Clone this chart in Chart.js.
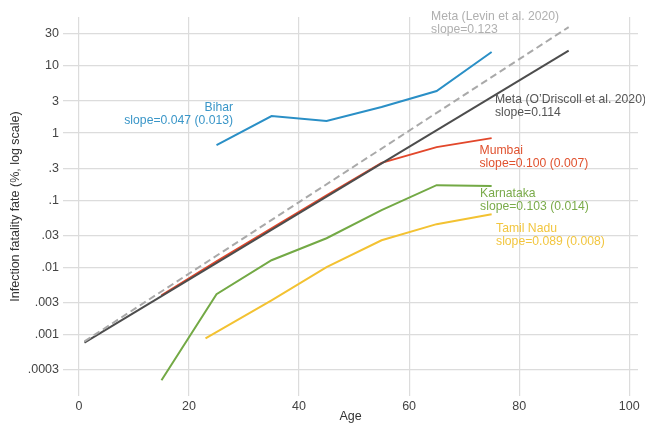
<!DOCTYPE html>
<html>
<head>
<meta charset="utf-8">
<script src="https://cdn.jsdelivr.net/npm/chart.js@4.4.1/dist/chart.umd.min.js"></script>
<style>
  html, body { margin: 0; padding: 0; background: #fff; }
  #wrap { width: 645px; height: 424px; }
</style>
</head>
<body>
<div id="wrap"><canvas id="ifr"></canvas></div>
<script>
// Age bands (x) and infection fatality rate in % (y) for each series
const ageMeta = [1, 89];
const levinIfr = [0.00078, 38];
const odriscollIfr = [0.00075, 17];

const ageBands = [25, 35, 45, 55, 65, 75];
const biharIfr = [0.66, 1.79, 1.51, 2.44, 4.23, 16.2];

const ageMumbai = [15, 25, 35, 45, 55, 65, 75];
const mumbaiIfr = [0.0038, 0.0122, 0.038, 0.118, 0.36, 0.617, 0.84];

const ageKarnataka = [15, 25, 35, 45, 55, 65, 75];
const karnatakaIfr = [0.000206, 0.00395, 0.0127, 0.027, 0.0708, 0.167, 0.162];

const ageTamilNadu = [23, 35, 45, 55, 65, 75];
const tamilNaduIfr = [0.00087, 0.0032, 0.00998, 0.0252, 0.0438, 0.0617];

const yTicks = [0.0003, 0.001, 0.003, 0.01, 0.03, 0.1, 0.3, 1, 3, 10, 30];
const yTickLabels = [".0003", ".001", ".003", ".01", ".03", ".1", ".3", "1", "3", "10", "30"];
const xTicks = [0, 20, 40, 60, 80, 100];

const FONT = "'Liberation Sans', Arial, Helvetica, sans-serif";

function pts(xs, ys) {
    return xs.map((x, i) => ({ x: x, y: ys[i] }));
}

// text labels next to each curve, anchored in data units
const curveLabels = [
    { lines: ["Bihar", "slope=0.047 (0.013)"], age: 28, ifr: 2.38, align: "right", color: "#3a96c8" },
    { lines: ["Meta (Levin et al. 2020)", "slope=0.123"], age: 64, ifr: 54, align: "left", color: "#b0b0b0" },
    { lines: ["Meta (O\u2019Driscoll et al. 2020)", "slope=0.114"], age: 75.6, ifr: 3.1, align: "left", color: "#555555" },
    { lines: ["Mumbai", "slope=0.100 (0.007)"], age: 72.8, ifr: 0.54, align: "left", color: "#e0522f" },
    { lines: ["Karnataka", "slope=0.103 (0.014)"], age: 72.9, ifr: 0.123, align: "left", color: "#7aab4a" },
    { lines: ["Tamil Nadu", "slope=0.089 (0.008)"], age: 75.8, ifr: 0.037, align: "left", color: "#f2c640" }
];

const labelPlugin = {
    id: "curveLabels",
    afterDatasetsDraw(chart) {
        const ctx = chart.ctx;
        const xs = chart.scales.x, ys = chart.scales.y;
        ctx.save();
        ctx.font = "12.2px " + FONT;
        ctx.textBaseline = "middle";
        curveLabels.forEach(l => {
            const px = xs.getPixelForValue(l.age);
            const py = ys.getPixelForValue(l.ifr);
            ctx.fillStyle = l.color;
            ctx.textAlign = l.align;
            l.lines.forEach((t, i) => ctx.fillText(t, px, py + i * 13));
        });
        ctx.restore();
    }
};

function line(data, color, extra) {
    return Object.assign({
        data: data,
        borderColor: color,
        backgroundColor: color,
        borderWidth: 2,
        pointRadius: 0,
        tension: 0,
        fill: false
    }, extra || {});
}

new Chart(document.getElementById("ifr"), {
    type: "line",
    data: {
        datasets: [
            line(pts(ageMeta, levinIfr), "#a9a9a9", { borderDash: [7, 4] }),
            line(pts(ageMeta, odriscollIfr), "#4d4d4d"),
            line(pts(ageBands, biharIfr), "#2a8fc6"),
            line(pts(ageMumbai, mumbaiIfr), "#e2472b"),
            line(pts(ageKarnataka, karnatakaIfr), "#73a945"),
            line(pts(ageTamilNadu, tamilNaduIfr), "#f3c232")
        ]
    },
    options: {
        responsive: true,
        maintainAspectRatio: false,
        animation: false,
        layout: { padding: { top: 17, right: 7, bottom: 0, left: 0 } },
        plugins: {
            legend: { display: false },
            tooltip: { enabled: false }
        },
        scales: {
            x: {
                type: "linear",
                min: -2.9,
                max: 101.6,
                bounds: "data",
                afterBuildTicks: s => { s.ticks = xTicks.map(v => ({ value: v })); },
                afterFit: s => { s.height = 28; },
                border: { display: false },
                grid: { color: "#dcdcdc", lineWidth: 1.2, drawTicks: false },
                ticks: { color: "#444", padding: 3, font: { family: FONT, size: 12.5 } },
                title: {
                    display: true, text: "Age", color: "#333",
                    font: { family: FONT, size: 12.5 }, padding: { top: 0, bottom: 0 }
                }
            },
            y: {
                type: "logarithmic",
                min: 0.0001198,
                max: 53.8,
                bounds: "data",
                afterBuildTicks: s => { s.ticks = yTicks.map(v => ({ value: v })); },
                afterFit: s => { s.width = 63; },
                border: { display: false },
                grid: { color: "#dcdcdc", lineWidth: 1.2, drawTicks: false },
                ticks: {
                    color: "#444", padding: 4, font: { family: FONT, size: 12.5 },
                    callback: (v, i) => yTickLabels[i]
                },
                title: {
                    display: true, text: "Infection fatality fate (%, log scale)", color: "#333",
                    font: { family: FONT, size: 12.5 }, padding: { top: 8, bottom: 0 }
                }
            }
        }
    },
    plugins: [labelPlugin]
});
</script>
</body>
</html>
